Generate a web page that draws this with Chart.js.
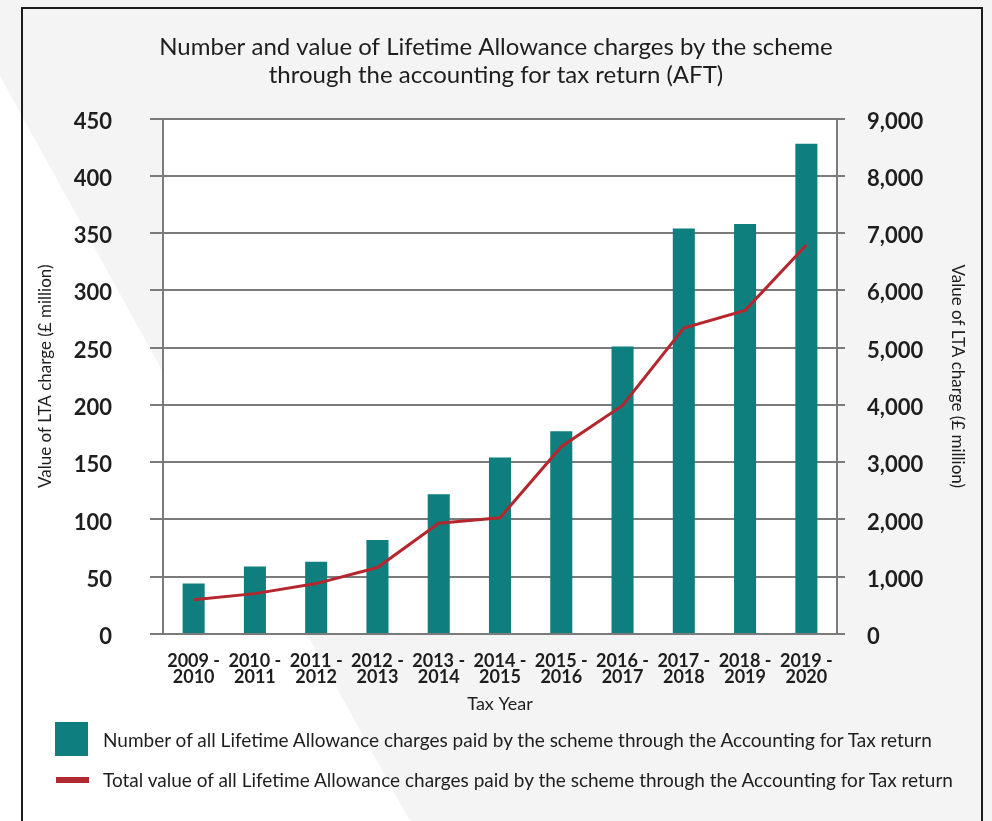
<!DOCTYPE html>
<html>
<head>
<meta charset="utf-8">
<script src="https://cdn.jsdelivr.net/npm/chart.js@4.4.1/dist/chart.umd.min.js"></script>
<style>
  html, body { margin: 0; padding: 0; }
  body { width: 992px; height: 821px; position: relative; overflow: hidden; background: #f4f4f4; font-family: 'Lato', sans-serif; }
  #band { position: absolute; left: 0; top: 0; width: 992px; height: 821px; background: #ffffff;
          clip-path: polygon(0 76px, 410px 821px, 0 821px); }
  #frame { position: absolute; left: 21px; top: 7px; width: 962px; height: 830px; box-sizing: border-box; border: 2px solid #1c1c1c; }
  #wrap { position: absolute; left: 0; top: 0; width: 992px; height: 821px; }
  .legend-text { position: absolute; left: 103px; font-size: 19px; color: #1e1e1e; line-height: 22px; white-space: nowrap; }
</style>
</head>
<body>
<div id="band"></div>
<div id="frame"></div>
<div id="wrap"><canvas id="ltaChart"></canvas></div>

<div style="position:absolute; left:55px; top:722px; width:33px; height:34px; background:#0f7e7f;"></div>
<div class="legend-text" style="top:729px;">Number of all Lifetime Allowance charges paid by the scheme through the Accounting for Tax return</div>
<div style="position:absolute; left:56px; top:777px; width:33px; height:6px; background:#b22a31;"></div>
<div class="legend-text" style="top:769px;">Total value of all Lifetime Allowance charges paid by the scheme through the Accounting for Tax return</div>

<script>
// Tax years (two line labels)
const taxYears = [
  ['2009 -', '2010'], ['2010 -', '2011'], ['2011 -', '2012'], ['2012 -', '2013'],
  ['2013 -', '2014'], ['2014 -', '2015'], ['2015 -', '2016'], ['2016 -', '2017'],
  ['2017 -', '2018'], ['2018 -', '2019'], ['2019 -', '2020']
];

// Bars - number of charges (left axis)
const chargeCounts = [44, 59, 63, 82, 122, 154, 177, 251, 354, 358, 428];

// Line - total value (right axis)
const chargeValues = [600, 705, 880, 1160, 1935, 2030, 3270, 3990, 5340, 5650, 6790];

// Tick labels
const leftTickLabels = ['0', '50', '100', '150', '200', '250', '300', '350', '400', '450'];
const rightTickLabels = ['0', '1,000', '2,000', '3,000', '4,000', '5,000', '6,000', '7,000', '8,000', '9,000'];

const gridGrey = '#7b7b7b';
const tickFont = { family: 'Lato', size: 22, weight: 'bold' };
const axisTitleFont = { family: 'Lato', size: 17, lineHeight: 1.2 };

// white plot background
const plotBackground = {
  id: 'plotBackground',
  beforeDraw(chart) {
    const { ctx, chartArea } = chart;
    ctx.save();
    ctx.fillStyle = '#ffffff';
    ctx.fillRect(chartArea.left, chartArea.top, chartArea.right - chartArea.left, chartArea.bottom - chartArea.top);
    ctx.restore();
  }
};

const ctx = document.getElementById('ltaChart').getContext('2d');

new Chart(ctx, {
  data: {
    labels: taxYears,
    datasets: [
      {
        type: 'line',
        label: 'Total value of all Lifetime Allowance charges paid by the scheme through the Accounting for Tax return',
        data: chargeValues,
        yAxisID: 'y1',
        borderColor: '#b5272e',
        borderWidth: 3,
        pointRadius: 0,
        tension: 0,
        order: 1
      },
      {
        type: 'bar',
        label: 'Number of all Lifetime Allowance charges paid by the scheme through the Accounting for Tax return',
        data: chargeCounts,
        yAxisID: 'y',
        backgroundColor: '#0f7e7f',
        categoryPercentage: 1,
        barPercentage: 0.36,
        order: 2
      }
    ]
  },
  options: {
    responsive: true,
    maintainAspectRatio: false,
    animation: false,
    layout: { padding: 0 },
    plugins: {
      legend: { display: false },
      tooltip: { enabled: false },
      title: {
        display: true,
        text: ['Number and value of Lifetime Allowance charges by the scheme', 'through the accounting for tax return (AFT)'],
        font: { family: 'Lato', size: 24, weight: 'normal', lineHeight: 28 / 24 },
        color: '#1e1e1e',
        padding: { top: 33, bottom: 29.5 }
      }
    },
    scales: {
      x: {
        grid: { display: false, drawTicks: false },
        border: { display: true, color: gridGrey, width: 2 },
        ticks: { color: '#1e1e1e', font: { family: 'Lato', size: 18, weight: 'bold', lineHeight: 16 / 18 }, padding: 19, maxRotation: 0, autoSkip: false },
        title: { display: true, text: 'Tax Year', color: '#1e1e1e', font: { family: 'Lato', size: 18, lineHeight: 1.2 }, padding: { top: 0, bottom: 106 } },
        afterFit(scale) { scale.height = 187; }
      },
      y: {
        position: 'left',
        min: 0,
        max: 450,
        ticks: {
          stepSize: 50,
          color: '#1e1e1e',
          font: tickFont,
          padding: 38,
          labelOffset: 3,
          callback: (value, index) => leftTickLabels[index]
        },
        grid: { color: gridGrey, lineWidth: 2, tickLength: 13 },
        border: { display: true, color: gridGrey, width: 2 },
        title: { display: true, text: 'Value of LTA charge (£ million)', color: '#1e1e1e', font: axisTitleFont, padding: { top: 35, bottom: 0 } },
        afterFit(scale) { scale.width = 163; }
      },
      y1: {
        position: 'right',
        min: 0,
        max: 9000,
        ticks: {
          stepSize: 1000,
          color: '#1e1e1e',
          font: tickFont,
          padding: 22,
          labelOffset: 3,
          callback: (value, index) => rightTickLabels[index]
        },
        grid: { drawOnChartArea: false, color: gridGrey, lineWidth: 2, tickLength: 8 },
        border: { display: true, color: gridGrey, width: 2 },
        title: { display: true, text: 'Value of LTA charge (£ million)', color: '#1e1e1e', font: axisTitleFont, padding: { top: 24.8, bottom: 0 } },
        afterFit(scale) { scale.width = 155; }
      }
    }
  },
  plugins: [plotBackground]
});
</script>
</body>
</html>
